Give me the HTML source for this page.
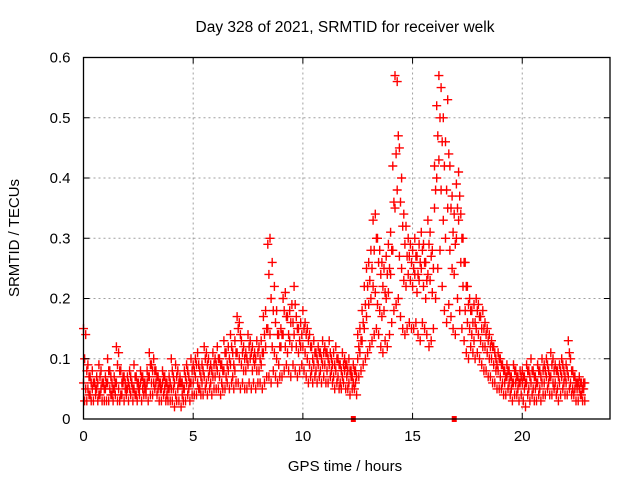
<!DOCTYPE html>
<html><head><meta charset="utf-8"><style>
html,body{margin:0;padding:0;background:#fff;}
svg{display:block;font-family:"Liberation Sans",sans-serif;}
</style></head><body>
<svg id="chart" width="640" height="480" viewBox="0 0 640 480" xmlns="http://www.w3.org/2000/svg">
<rect width="640" height="480" fill="#fff"/>
<text x="345" y="32" font-size="15.5" text-anchor="middle">Day 328 of 2021, SRMTID for receiver welk</text>
<text x="345" y="471" font-size="15" text-anchor="middle">GPS time / hours</text>
<text x="19" y="238" font-size="15" text-anchor="middle" transform="rotate(-90 19 238)">SRMTID / TECUs</text>
<g id="grid"></g>
<g id="marks"></g>
<g id="axes"></g>
</svg>
<script>
const xTicks=[0,5,10,15,20];
const yTicks=[0,0.1,0.2,0.3,0.4,0.5,0.6];
const yTickLabels=["0","0.1","0.2","0.3","0.4","0.5","0.6"];
const tStart=0, tStep=0.1, tOffsetExtra=0.05;
const seriesHigh=[
.15,.14,.09,.07,.08,.06,.07,.09,.08,.06,
.07,.10,.08,.06,.07,.12,.11,.08,.07,.06,
.07,.08,.06,.09,.07,.06,.08,.07,.06,.08,
.11,.09,.10,.08,.07,.06,.08,.07,.06,.07,
.10,.07,.09,.08,.07,.06,.08,.09,.07,.10,
.09,.10,.11,.08,.09,.12,.11,.10,.09,.11,
.10,.12,.10,.09,.13,.11,.12,.14,.11,.13,
.17,.16,.13,.12,.11,.14,.13,.12,.11,.13,
.12,.13,.17,.18,.29,.30,.26,.22,.18,.14,
.15,.20,.21,.17,.18,.19,.22,.17,.15,.16,
.18,.16,.15,.14,.12,.13,.11,.12,.11,.13,
.12,.11,.13,.10,.11,.12,.10,.09,.11,.10,
.09,.10,.08,.09,.08,.14,.15,.18,.22,.25,
.26,.28,.33,.34,.30,.28,.26,.25,.27,.29,
.31,.42,.57,.56,.45,.40,.34,.32,.30,.29,
.28,.30,.27,.29,.31,.29,.26,.33,.31,.28,
.42,.52,.57,.55,.50,.46,.53,.42,.37,.34,
.39,.41,.34,.30,.26,.22,.20,.18,.19,.20,
.19,.17,.18,.16,.15,.14,.13,.12,.10,.11,
.10,.09,.08,.09,.08,.07,.09,.08,.07,.08,
.08,.07,.09,.08,.10,.08,.07,.09,.08,.10,
.09,.10,.08,.11,.10,.09,.08,.09,.10,.08,
.09,.13,.10,.08,.07,.06,.07,.06,.06];
const seriesUpperMid=[
.10,.08,.07,.06,.06,.05,.06,.07,.06,.05,
.06,.08,.07,.05,.06,.09,.08,.06,.07,.05,
.06,.07,.05,.07,.06,.05,.07,.06,.05,.07,
.09,.08,.08,.07,.06,.05,.07,.06,.05,.06,
.08,.06,.07,.06,.06,.05,.07,.08,.06,.08,
.08,.09,.09,.07,.08,.10,.09,.08,.08,.09,
.09,.10,.09,.08,.11,.09,.10,.12,.09,.11,
.15,.14,.11,.10,.10,.12,.11,.10,.10,.11,
.10,.11,.14,.15,.24,.20,.18,.16,.14,.12,
.14,.18,.17,.14,.16,.16,.19,.15,.13,.14,
.15,.14,.13,.12,.10,.11,.10,.11,.10,.11,
.11,.10,.11,.09,.09,.10,.09,.08,.09,.09,
.08,.08,.07,.08,.07,.12,.13,.16,.19,.22,
.23,.25,.28,.30,.26,.24,.22,.21,.24,.25,
.28,.36,.44,.47,.36,.32,.29,.27,.27,.26,
.25,.27,.24,.26,.28,.26,.23,.29,.27,.25,
.38,.47,.50,.46,.42,.38,.44,.35,.31,.29,
.35,.37,.30,.26,.22,.19,.18,.16,.16,.18,
.17,.15,.15,.14,.13,.12,.12,.11,.09,.10,
.09,.08,.07,.08,.07,.06,.08,.07,.06,.07,
.07,.06,.08,.07,.08,.07,.06,.08,.07,.08,
.08,.09,.07,.09,.08,.08,.07,.08,.09,.07,
.08,.11,.08,.07,.06,.06,.06,.05,.06];
const seriesMid=[
.06,.05,.05,.04,.05,.06,.05,.04,.05,.06,
.05,.06,.05,.04,.05,.06,.05,.04,.06,.05,
.05,.05,.06,.05,.04,.05,.06,.05,.05,.06,
.07,.06,.06,.06,.05,.05,.06,.05,.04,.05,
.05,.05,.04,.05,.06,.04,.05,.06,.05,.06,
.06,.07,.06,.05,.06,.07,.06,.07,.06,.07,
.07,.08,.07,.06,.08,.07,.08,.09,.07,.08,
.11,.10,.09,.08,.08,.09,.10,.08,.09,.08,
.08,.09,.11,.12,.15,.14,.12,.11,.10,.09,
.12,.14,.12,.11,.13,.12,.14,.12,.11,.12,
.12,.11,.10,.09,.08,.09,.08,.09,.08,.09,
.09,.08,.09,.08,.07,.08,.07,.06,.07,.08,
.07,.06,.07,.06,.06,.10,.11,.13,.15,.17,
.19,.20,.22,.21,.19,.18,.17,.18,.20,.21,
.24,.28,.35,.38,.27,.25,.23,.22,.24,.23,
.22,.24,.21,.23,.25,.22,.20,.24,.23,.21,
.35,.40,.43,.38,.33,.30,.35,.28,.25,.24,
.30,.33,.26,.22,.18,.16,.15,.14,.13,.15,
.14,.13,.12,.12,.11,.10,.10,.09,.08,.08,
.07,.06,.06,.07,.06,.05,.06,.06,.05,.06,
.06,.05,.06,.05,.06,.05,.05,.06,.05,.06,
.06,.07,.06,.07,.06,.06,.05,.06,.07,.06,
.06,.07,.06,.05,.05,.05,.05,.04,.05];
const seriesLow=[
.03,.03,.04,.03,.03,.04,.03,.04,.03,.03,
.03,.03,.04,.03,.04,.03,.03,.04,.03,.04,
.03,.04,.03,.04,.03,.04,.03,.04,.04,.03,
.04,.04,.05,.04,.03,.03,.04,.03,.03,.03,
.03,.02,.03,.03,.02,.03,.03,.04,.03,.04,
.04,.04,.05,.04,.04,.05,.04,.05,.04,.05,
.05,.05,.04,.05,.05,.06,.05,.06,.05,.06,
.06,.05,.06,.05,.05,.06,.05,.06,.05,.06,
.06,.05,.06,.07,.07,.06,.08,.07,.06,.07,
.07,.08,.09,.08,.07,.09,.08,.07,.08,.09,
.08,.07,.06,.07,.06,.07,.06,.07,.06,.07,
.06,.06,.07,.06,.05,.06,.05,.05,.06,.05,
.05,.04,.05,.05,.04,.07,.08,.09,.10,.11,
.12,.13,.14,.15,.14,.12,.11,.13,.12,.14,
.16,.18,.19,.20,.17,.15,.14,.15,.16,.15,
.15,.16,.14,.13,.16,.15,.14,.12,.13,.15,
.20,.25,.28,.22,.18,.16,.19,.17,.15,.14,
.20,.18,.15,.13,.11,.10,.12,.11,.10,.11,
.10,.09,.08,.08,.07,.07,.06,.06,.05,.05,
.05,.04,.04,.05,.04,.03,.04,.04,.03,.04,
.03,.02,.04,.03,.04,.03,.03,.04,.03,.04,
.04,.05,.04,.04,.05,.04,.03,.04,.05,.04,
.04,.05,.04,.04,.03,.03,.04,.03,.03];
const gapMarkers=[12.3,16.9];

const L=83.5,R=610,T=57.5,B=419;
const xMin=0,xMax=24,yMin=0,yMax=0.6;
function xs(t){return L+(t-xMin)/(xMax-xMin)*(R-L);}
function ys(v){return B-(v-yMin)/(yMax-yMin)*(B-T);}
const NS="http://www.w3.org/2000/svg";
function mk(tag,attrs,parent){const e=document.createElementNS(NS,tag);for(const k in attrs)e.setAttribute(k,attrs[k]);parent.appendChild(e);return e;}
const grid=document.getElementById('grid'),marks=document.getElementById('marks'),axes=document.getElementById('axes');
xTicks.forEach(t=>{
  if(t>xMin){const g=mk('line',{x1:xs(t),x2:xs(t),y1:T,y2:B,stroke:'#a0a0a0','stroke-dasharray':'2,3','stroke-width':1},grid);
  
  }
  const tk=mk('path',{d:`M${xs(t)},${B}v-6M${xs(t)},${T}v6`,stroke:'#000','stroke-width':1},axes);
  
  
  const lb=mk('text',{x:xs(t),y:B+22,'font-size':15,'text-anchor':'middle'},axes);lb.textContent=String(t);
  
  
});
yTicks.forEach((v,i)=>{
  if(v>yMin&&v<yMax){const g=mk('line',{x1:L,x2:R,y1:ys(v),y2:ys(v),stroke:'#a0a0a0','stroke-dasharray':'2,3','stroke-width':1},grid);
  
  }
  const tk=mk('path',{d:`M${L},${ys(v)}h6M${R},${ys(v)}h-6`,stroke:'#000','stroke-width':1},axes);
  
  
  const lb=mk('text',{x:L-13,y:ys(v)+5,'font-size':15,'text-anchor':'end'},axes);lb.textContent=yTickLabels[i];
  
  
});
const frame=mk('rect',{x:L,y:T,width:R-L,height:B-T,fill:'none',stroke:'#000','stroke-width':1.3},axes);


[[seriesHigh,0],[seriesUpperMid,tOffsetExtra],[seriesMid,0],[seriesLow,tOffsetExtra]].forEach(([arr,off])=>{
  let d='';
  arr.forEach((v,i)=>{const x=xs(tStart+off+i*tStep),y=ys(v);d+=`M${(x-4.5).toFixed(1)},${y.toFixed(1)}h9M${x.toFixed(1)},${(y-4.5).toFixed(1)}v9`;});
  const p=mk('path',{d:d,stroke:'#ff0000','stroke-width':1.4,fill:'none'},marks);
  
  
});
gapMarkers.forEach(t=>{
  const r=mk('rect',{x:xs(t)-2.5,y:B-3,width:5,height:6,fill:'#ff0000'},marks);
  
  
});
</script>
</body></html>
